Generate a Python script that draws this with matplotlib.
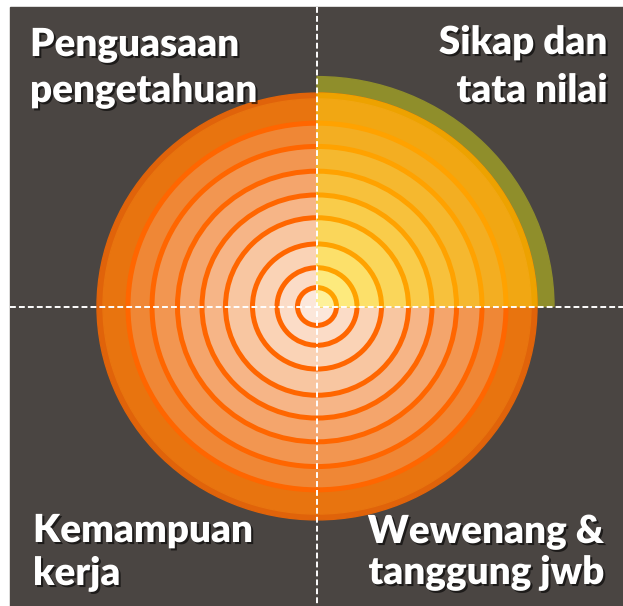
import matplotlib
matplotlib.use("Agg")
import matplotlib.pyplot as plt
from matplotlib.patches import Circle, Wedge, Arc, Rectangle
from matplotlib.transforms import Affine2D
import matplotlib.patheffects as pe

# ring radii (inner to outer)
ring_radii = [19.5, 40, 64.5, 91.5, 115, 139.5, 165, 189, 214]
outer_radius = 220
olive_radius = 237

# band colours, inner to outer (last one is the rim)
orange_fills = ["#fce7da", "#fbdcc7", "#fad3b6", "#f8c6a1", "#f6b587",
                "#f4a56c", "#f29651", "#ef8736", "#e8740f", "#e0630a"]
yellow_fills = ["#fef19a", "#fdea7d", "#fce06a", "#fad65a", "#f9cc4a",
                "#f7c13c", "#f5b82f", "#f3ae22", "#f1a713", "#eda200"]

labels_tl = ["Penguasaan", "pengetahuan"]
labels_tr = ["Sikap dan", "tata nilai"]
labels_bl = ["Kemampuan", "kerja"]
labels_br = ["Wewenang &", "tanggung jwb"]

W, H = 623, 606
cx, cy = 317, 306.5

fig = plt.figure(figsize=(W / 100, H / 100), dpi=100)
ax = fig.add_axes([0, 0, 1, 1])
ax.set_xlim(0, W)
ax.set_ylim(H, 0)
ax.axis("off")

ax.add_patch(Rectangle((10, 7), W - 10, H - 7, color="#4a4542", zorder=0))

# circles are a little squashed vertically in the original
tr = Affine2D().scale(1, 0.97).translate(cx, cy) + ax.transData

ax.add_patch(Wedge((0, 0), olive_radius, 270, 360, color="#8f8e2b", transform=tr, zorder=1))

# orange full circle
ax.add_patch(Circle((0, 0), outer_radius, color=orange_fills[-1], transform=tr, zorder=2))
for r, c in reversed(list(zip(ring_radii, orange_fills[:-1]))):
    ax.add_patch(Circle((0, 0), r, color=c, transform=tr, zorder=2))
for r in ring_radii[:-1]:
    ax.add_patch(Circle((0, 0), r, fill=False, ec="#ff6600", lw=3.6, transform=tr, zorder=3))

# yellow top-right quadrant
ax.add_patch(Wedge((0, 0), outer_radius, 270, 360, color=yellow_fills[-1], transform=tr, zorder=4))
for r, c in reversed(list(zip(ring_radii, yellow_fills[:-1]))):
    ax.add_patch(Wedge((0, 0), r, 270, 360, color=c, transform=tr, zorder=4))
for r in ring_radii[:-1]:
    ax.add_patch(Arc((0, 0), 2 * r, 2 * r, theta1=270, theta2=360, ec="#ffa200",
                     lw=3.6, transform=tr, zorder=5))

# dashed cross
ax.plot([cx, cx], [7, H], color="white", lw=1.4, ls=(0, (3, 1.6)), zorder=6)
ax.plot([10, W], [cy, cy], color="white", lw=1.4, ls=(0, (3, 1.6)), zorder=6)

shadow = [pe.withSimplePatchShadow(offset=(1.5, -1.5), shadow_rgbFace="black", alpha=0.6)]
txt = dict(color="white", fontsize=27.8, fontweight="heavy", family="Lato",
           va="baseline", path_effects=shadow, zorder=7)

for s, y in zip(labels_tl, [56, 102]):
    ax.text(30, y, s, ha="left", **txt)
for s, y in zip(labels_tr, [54, 102]):
    ax.text(607, y, s, ha="right", **txt)
for s, y in zip(labels_bl, [542, 585]):
    ax.text(33, y, s, ha="left", **txt)
for s, y in zip(labels_br, [543, 584]):
    ax.text(604, y, s, ha="right", **txt)

fig.savefig("out.png", dpi=100)
